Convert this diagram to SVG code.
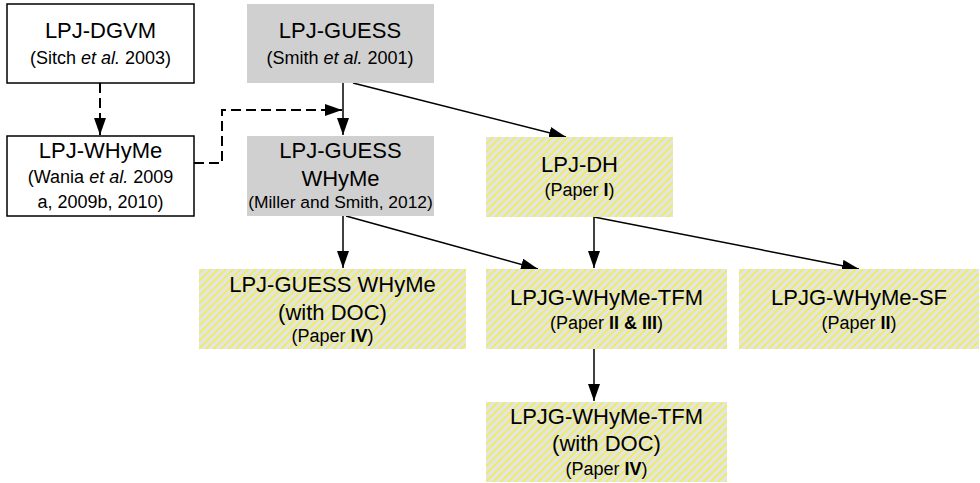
<svg xmlns="http://www.w3.org/2000/svg" width="980" height="483" viewBox="0 0 980 483">
<defs>
<pattern id="hatch" width="7.5" height="7.5" patternUnits="userSpaceOnUse">
<rect width="7.5" height="7.5" fill="#e4e4e4"/>
<path d="M-1,8.5 L8.5,-1 M-1,1 L1,-1 M6.5,8.5 L8.5,6.5" stroke="#f2f21e" stroke-width="1.3"/>
</pattern>
<marker id="arr" markerWidth="17" markerHeight="12" refX="17" refY="6" orient="auto" markerUnits="userSpaceOnUse">
<path d="M0,0 L17,6 L0,12 z" fill="#000"/>
</marker>
<style>
.white{fill:#fff;stroke:#000;stroke-width:1.5}
.gray{fill:#d0d0d0}
.hat{fill:url(#hatch)}
text{font-family:"Liberation Sans",Arial,sans-serif;fill:#000;text-anchor:middle}
.m{font-size:22px}
.s{font-size:18px}
.b{font-weight:bold}
.i{font-style:italic}
.solid{fill:none;stroke:#000;stroke-width:1.5}
.dash{fill:none;stroke:#000;stroke-width:2;stroke-dasharray:10 5}
</style>
</defs>
<rect width="980" height="483" fill="#fff"/>

<g id="connectors">
<path class="dash" d="M100,83 V135" marker-end="url(#arr)"/>
<path class="dash" d="M194,163 H222 V110 H342" marker-end="url(#arr)"/>
<path class="solid" d="M343,83 V135" marker-end="url(#arr)"/>
<path class="solid" d="M353,83 L566,137" marker-end="url(#arr)"/>
<path class="solid" d="M343,216 V268" marker-end="url(#arr)"/>
<path class="solid" d="M346,216 L538,269" marker-end="url(#arr)"/>
<path class="solid" d="M594,217 V268" marker-end="url(#arr)"/>
<path class="solid" d="M594,217 L859,269" marker-end="url(#arr)"/>
<path class="solid" d="M594,349 V401" marker-end="url(#arr)"/>
</g>

<g id="lpj-dgvm">
<rect class="white" x="7" y="4" width="187" height="79"/>
<text class="m" x="100.5" y="38">LPJ-DGVM</text>
<text class="s" x="100.5" y="64">(Sitch <tspan class="i">et al.</tspan> 2003)</text>
</g>

<g id="lpj-guess">
<rect class="gray" x="247" y="4" width="187" height="79"/>
<text class="m" x="340" y="38">LPJ-GUESS</text>
<text class="s" x="340" y="64">(Smith <tspan class="i">et al.</tspan> 2001)</text>
</g>

<g id="lpj-whyme">
<rect class="white" x="7" y="136" width="187" height="80"/>
<text class="m" x="100.5" y="158">LPJ-WHyMe</text>
<text class="s" x="100.5" y="183">(Wania <tspan class="i">et al.</tspan> 2009</text>
<text class="s" x="100.5" y="208">a, 2009b, 2010)</text>
</g>

<g id="lpj-guess-whyme">
<rect class="gray" x="247" y="136" width="187" height="80"/>
<text class="m" x="340.5" y="158">LPJ-GUESS</text>
<text class="m" x="340.5" y="186">WHyMe</text>
<text class="s" x="340.5" y="208" style="font-size:17.4px">(Miller and Smith, 2012)</text>
</g>

<g id="lpj-dh">
<rect class="hat" x="486" y="137" width="187" height="80"/>
<text class="m" x="579.5" y="172">LPJ-DH</text>
<text class="s" x="579.5" y="196">(Paper <tspan class="b">I</tspan>)</text>
</g>

<g id="lpj-guess-whyme-doc">
<rect class="hat" x="199" y="269" width="267" height="80"/>
<text class="m" x="332.5" y="292">LPJ-GUESS WHyMe</text>
<text class="m" x="332.5" y="320">(with DOC)</text>
<text class="s" x="332.5" y="342">(Paper <tspan class="b">IV</tspan>)</text>
</g>

<g id="lpjg-whyme-tfm">
<rect class="hat" x="486" y="269" width="241" height="80"/>
<text class="m" x="606.5" y="305">LPJG-WHyMe-TFM</text>
<text class="s" x="606.5" y="329">(Paper <tspan class="b">II &amp; III</tspan>)</text>
</g>

<g id="lpjg-whyme-sf">
<rect class="hat" x="739" y="269" width="240" height="80"/>
<text class="m" x="859" y="305">LPJG-WHyMe-SF</text>
<text class="s" x="859" y="329">(Paper <tspan class="b">II</tspan>)</text>
</g>

<g id="lpjg-whyme-tfm-doc">
<rect class="hat" x="486" y="402" width="241" height="80"/>
<text class="m" x="606.5" y="424">LPJG-WHyMe-TFM</text>
<text class="m" x="606.5" y="451">(with DOC)</text>
<text class="s" x="606.5" y="475">(Paper <tspan class="b">IV</tspan>)</text>
</g>
</svg>
